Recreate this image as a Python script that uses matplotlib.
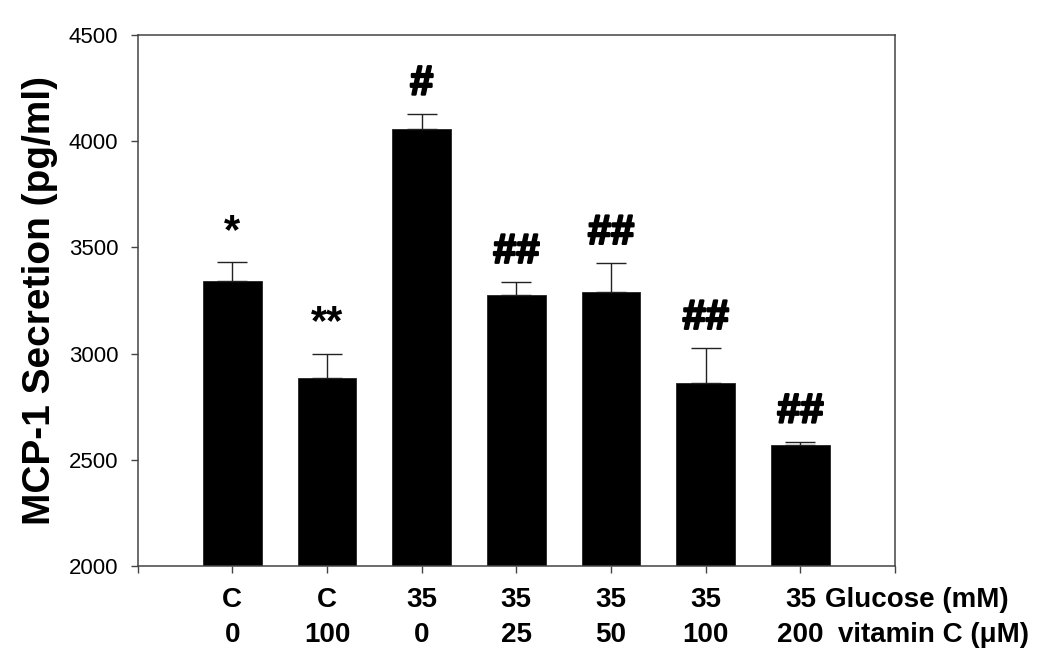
import matplotlib
matplotlib.use("Agg")
import matplotlib.pyplot as plt
import matplotlib.patheffects as pe
import numpy as np

plt.rcParams['font.family'] = ['Liberation Sans', 'DejaVu Sans']

# data
glucose = ['C', 'C', '35', '35', '35', '35', '35']
vitamin_c = ['0', '100', '0', '25', '50', '100', '200']
mcp1_mean = [3343, 2885, 4057, 3276, 3291, 2860, 2570]
mcp1_se = [88, 115, 71, 60, 134, 165, 14]
marks = ['*', '**', '#', '##', '##', '##', '##']
yticks = [2000, 2500, 3000, 3500, 4000, 4500]


def plot_mcp1():
    fig = plt.figure(figsize=(10.5, 6.63), dpi=100)
    ax = fig.add_axes([0.1311, 0.1463, 0.7213, 0.8009])

    x = np.arange(len(mcp1_mean))
    yerr = [np.zeros(len(mcp1_se)), mcp1_se]
    ax.bar(x, mcp1_mean, width=0.62, color='black', edgecolor='#222222',
           linewidth=0.6, yerr=yerr,
           error_kw=dict(ecolor='#222222', elinewidth=1.0, capsize=10.5,
                         capthick=1.0))

    # significance marks; hashes thickened a little to match the heavy glyphs
    heavy = [pe.withStroke(linewidth=1.6, foreground='black')]
    for i, (m, s, lab) in enumerate(zip(mcp1_mean, mcp1_se, marks)):
        effects = heavy if lab.startswith('#') else None
        ax.annotate(lab, xy=(i, m + s), xytext=(0, 14),
                    textcoords='offset points', ha='center', va='baseline',
                    fontsize=30, fontweight='bold', path_effects=effects)

    ax.set_xlim(-1, 7)
    ax.set_ylim(2000, 4500)
    ax.set_yticks(yticks)
    ax.set_yticklabels([str(t) for t in yticks], fontsize=16)
    ax.set_xticks(np.arange(-1, 8))
    ax.set_xticklabels([])
    ax.tick_params(direction='out', length=5, width=1.0, color='#444444',
                   pad=9)

    for sp in ax.spines.values():
        sp.set_linewidth(1.1)
        sp.set_color('#444444')

    trans = ax.get_xaxis_transform()
    for i, (g, v) in enumerate(zip(glucose, vitamin_c)):
        ax.text(i, -0.077, g, transform=trans, ha='center', va='baseline',
                fontsize=20, fontweight='bold')
        ax.text(i, -0.143, v, transform=trans, ha='center', va='baseline',
                fontsize=20, fontweight='bold')
    ax.text(6.26, -0.077, 'Glucose (mM)', transform=trans, ha='left',
            va='baseline', fontsize=20, fontweight='bold', clip_on=False)
    ax.text(6.40, -0.143, 'vitamin C (\u03bcM)', transform=trans, ha='left',
            va='baseline', fontsize=20, fontweight='bold', clip_on=False)

    ax.set_ylabel('MCP-1 Secretion (pg/ml)', fontsize=28, fontweight='bold')
    ax.yaxis.set_label_coords(-0.105, 0.5)

    fig.savefig('out.png', dpi=100)


if __name__ == "__main__":
    plot_mcp1()
